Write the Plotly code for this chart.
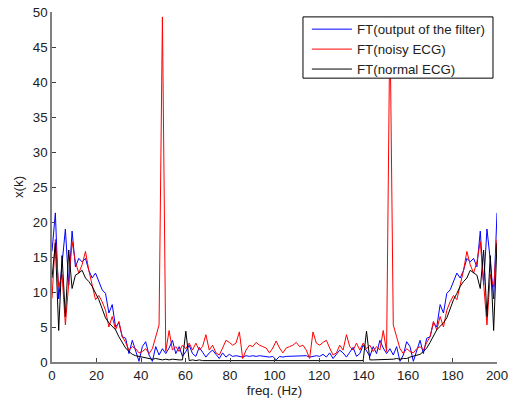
import numpy as np
import plotly.graph_objects as go

# Frequency bins of the spectrum (134 bins spanning 0..200 Hz)
freq = np.linspace(0, 200, 134)

# |FT| of the filter output
ft_filtered = [
    15.8, 21.3, 9.0, 14.5, 19.0, 11.0, 18.7, 13.6, 14.8, 14.3,
    14.8, 13.1, 12.0, 12.7, 11.6, 10.3, 9.8, 7.0, 8.2, 5.0,
    5.6, 3.6, 3.4, 1.2, 3.1, 1.5, 0.1, 2.2, 2.9, 1.0,
    0.1, 2.2, 1.0, 1.9, 1.2, 2.0, 3.1, 1.2, 2.2, 0.8,
    1.5, 2.4, 1.2, 0.8, 2.1, 1.4, 0.7, 1.3, 1.7, 1.1,
    0.5, 1.3, 0.7, 1.1, 0.8, 0.9, 0.8, 0.7, 0.9, 0.8,
    0.9, 0.8, 0.9, 0.8, 0.8, 0.7, 0.8, 0.3,
    0.8, 0.7, 0.8, 0.8, 0.9, 0.8, 0.9,
    0.8, 0.9, 0.7, 0.8, 0.9, 0.8, 1.1, 0.7, 1.3, 0.5,
    1.1, 1.7, 1.3, 0.7, 1.4, 2.1, 0.8, 1.2, 2.4, 1.5,
    0.8, 2.2, 1.2, 3.1, 2.0, 1.2, 1.9, 1.0, 2.2, 0.1,
    1.0, 2.9, 2.2, 0.1, 1.5, 3.1, 1.2, 3.4, 3.6, 5.6,
    5.0, 8.2, 7.0, 9.8, 10.3, 11.6, 12.7, 12.0, 13.1, 14.8,
    14.3, 14.8, 13.6, 18.7, 11.0, 19.0, 14.5, 9.0, 21.3,
]

# |FT| of the noisy ECG (50 Hz interference)
ft_noisy = [
    9.1, 17.5, 10.7, 12.5, 5.3, 11.2, 17.2, 14.3, 12.7, 13.9,
    15.8, 13.1, 10.8, 8.9, 9.5, 8.6, 7.4, 5.0, 6.5, 4.6,
    5.8, 3.6, 2.8, 1.7, 2.2, 1.9, 1.3, 1.5, 1.9, 1.2,
    1.9, 3.6, 5.3, 49.3, 1.5, 4.5, 1.7, 2.2, 1.5, 2.4,
    1.9, 2.7, 1.7, 2.7, 1.7, 2.2, 3.9, 1.7, 2.4, 1.3,
    1.0, 2.0, 3.1, 2.8, 2.4, 2.7, 4.3, 0.5, 1.7, 2.4,
    2.2, 2.8, 2.4, 2.2, 2.0, 1.3, 2.0, 3.0,
    2.0, 1.3, 2.0, 2.2, 2.4, 2.8, 2.2,
    2.4, 1.7, 0.5, 4.3, 2.7, 2.4, 2.8, 3.1, 2.0, 1.0,
    1.3, 2.4, 1.7, 3.9, 2.2, 1.7, 2.7, 1.7, 2.7, 1.9,
    2.4, 1.5, 2.2, 1.7, 4.5, 1.5, 49.3, 5.3, 3.6, 1.9,
    1.2, 1.9, 1.5, 1.3, 1.9, 2.2, 1.7, 2.8, 3.6, 5.8,
    4.6, 6.5, 5.0, 7.4, 8.6, 9.5, 8.9, 10.8, 13.1, 15.8,
    13.9, 12.7, 14.3, 17.2, 11.2, 5.3, 12.5, 10.7, 17.5,
]

# |FT| of the clean ECG
ft_normal = [
    12.0, 17.0, 4.5, 15.2, 6.5, 16.0, 10.5, 12.4, 12.7, 13.1,
    12.0, 11.5, 10.8, 9.8, 8.9, 7.6, 6.3, 5.6, 5.1, 4.6,
    3.6, 2.8, 2.0, 1.5, 1.1, 0.9, 0.8, 0.7, 0.5, 0.5,
    0.4, 0.5, 0.4, 0.3, 0.4, 0.3, 0.4, 0.3, 0.3, 0.3,
    4.4, 0.2, 0.3, 0.2, 0.3, 0.2, 0.2, 0.3, 0.2, 0.2,
    0.2, 0.3, 0.2, 0.2, 0.2, 0.3, 0.2, 0.2, 0.2, 0.3,
    0.2, 0.2, 0.2, 0.3, 0.2, 0.2, 0.2, 0.2,
    0.2, 0.2, 0.2, 0.3, 0.2, 0.2, 0.2,
    0.3, 0.2, 0.2, 0.2, 0.3, 0.2, 0.2, 0.2, 0.3, 0.2,
    0.2, 0.2, 0.3, 0.2, 0.2, 0.3, 0.2, 0.3, 0.2, 4.4,
    0.3, 0.3, 0.3, 0.4, 0.3, 0.4, 0.3, 0.4, 0.5, 0.4,
    0.5, 0.5, 0.7, 0.8, 0.9, 1.1, 1.5, 2.0, 2.8, 3.6,
    4.6, 5.1, 5.6, 6.3, 7.6, 8.9, 9.8, 10.8, 11.5, 12.0,
    13.1, 12.7, 12.4, 10.5, 16.0, 6.5, 15.2, 4.5, 17.0,
]

x_ticks = [0, 20, 40, 60, 80, 100, 120, 140, 160, 180, 200]
y_ticks = [0, 5, 10, 15, 20, 25, 30, 35, 40, 45, 50]

series_names = ["FT(output of the filter)", "FT(noisy ECG)", "FT(normal ECG)"]
series_values = [ft_filtered, ft_noisy, ft_normal]
series_colors = ["#0000ff", "#ff0000", "#000000"]

font_family = "Arial, Liberation Sans, sans-serif"
fsize = 13.3

fig = go.Figure()
for name, vals, color in zip(series_names, series_values, series_colors):
    fig.add_trace(go.Scatter(
        x=freq, y=vals, mode="lines", name=name,
        line=dict(color=color, width=1), showlegend=False,
    ))

# Boxed key in the upper-right corner (paper coordinates of the plot area)
key_left, key_right = 0.564, 0.991
key_top, key_bottom = 0.986, 0.811
row_y = [0.951, 0.894, 0.837]
swatch_x0, swatch_x1, label_x = 0.584, 0.674, 0.682

shapes = [dict(type="rect", xref="paper", yref="paper",
               x0=key_left, x1=key_right, y0=key_bottom, y1=key_top,
               fillcolor="white", line=dict(color="black", width=1),
               layer="above")]
annotations = []
for name, color, ry in zip(series_names, series_colors, row_y):
    shapes.append(dict(type="line", xref="paper", yref="paper",
                       x0=swatch_x0, x1=swatch_x1, y0=ry, y1=ry,
                       line=dict(color=color, width=1), layer="above"))
    annotations.append(dict(xref="paper", yref="paper", x=label_x, y=ry,
                            xanchor="left", yanchor="middle", showarrow=False,
                            text=name,
                            font=dict(family=font_family, size=fsize,
                                      color="#222222")))

axis_common = dict(
    showgrid=False, zeroline=False, showline=True,
    linecolor="#808080", linewidth=1.5,
    ticks="inside", ticklen=4, tickcolor="#404040", tickwidth=1,
    tickfont=dict(family=font_family, size=fsize, color="#222222"),
    mirror=False, automargin=False,
)

fig.update_layout(
    width=515, height=403,
    margin=dict(l=52, r=18, t=12, b=41),
    paper_bgcolor="white", plot_bgcolor="white",
    font=dict(family=font_family, size=fsize, color="#222222"),
    xaxis=dict(range=[0, 200], tickvals=x_ticks,
               title=dict(text="freq. (Hz)", standoff=4,
                          font=dict(family=font_family, size=fsize)),
               **axis_common),
    yaxis=dict(range=[0, 50], tickvals=y_ticks,
               title=dict(text="x(k)", standoff=6,
                          font=dict(family=font_family, size=fsize)),
               **axis_common),
    shapes=shapes,
    annotations=annotations,
    showlegend=False,
)

fig.write_html("out.html")
